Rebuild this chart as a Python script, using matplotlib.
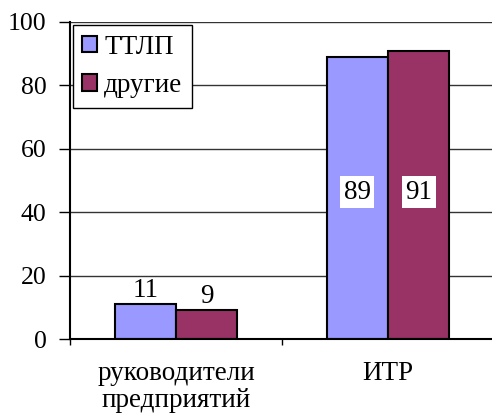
import matplotlib
matplotlib.use("Agg")
import matplotlib.pyplot as plt
import numpy as np

categories = ["руководители\nпредприятий", "ИТР"]
series_names = ["ТТЛП", "другие"]
ttlp = [11, 89]
other = [9, 91]
colors = ["#9999FF", "#993366"]
yticks = [0, 20, 40, 60, 80, 100]

FONT = ['Liberation Serif', 'DejaVu Serif']
plt.rcParams['font.family'] = FONT
plt.rcParams['font.serif'] = FONT
FS = 19.5

fig = plt.figure(figsize=(4.92, 4.15), dpi=100)
ax = fig.add_axes([70/492, (415-339)/415, 424/492, 317/415])

x = np.arange(len(categories))
w = 0.29
b1 = ax.bar(x - w/2, ttlp, w, color=colors[0], edgecolor='black', linewidth=1.5, label=series_names[0], zorder=3)
b2 = ax.bar(x + w/2, other, w, color=colors[1], edgecolor='black', linewidth=1.5, label=series_names[1], zorder=3)

for i in range(len(categories)):
    group_mid = (ttlp[i] + other[i]) / 4
    for rect, v in ((b1[i], ttlp[i]), (b2[i], other[i])):
        cx = rect.get_x() + rect.get_width()/2
        if v < 50:
            ax.text(cx, v + 0.5, str(v), ha='center', va='bottom', fontsize=FS, zorder=4, family=FONT)
        else:
            ax.text(cx, group_mid + 1.3, str(v), ha='center', va='center', fontsize=FS, zorder=4, family=FONT,
                    bbox=dict(facecolor='white', edgecolor='none', pad=2.5))

ax.set_xlim(-0.5, 1.5)
ax.set_ylim(0, 100)
ax.set_yticks(yticks)
ax.set_yticklabels([str(t) for t in yticks], fontsize=18.5, family=FONT)
ax.set_xticks(x)
ax.set_xticklabels(categories, fontsize=FS, family=FONT, linespacing=1.1)
ax.set_xticks([-0.5, 0.5, 1.5], minor=True)
ax.tick_params(axis='x', which='major', length=0, pad=16)
ax.tick_params(axis='x', which='minor', length=4, width=1)
ax.tick_params(axis='y', length=8, width=1, pad=9)
ax.yaxis.grid(True, color='#333333', linewidth=1, zorder=0)
ax.set_axisbelow(True)
for s in ['top', 'right']:
    ax.spines[s].set_visible(False)
ax.spines['left'].set_linewidth(1.5)
ax.spines['bottom'].set_linewidth(1.5)
ax.spines['left'].set_zorder(5)
ax.spines['bottom'].set_zorder(5)

leg = ax.legend(loc='upper left', bbox_to_anchor=(0.007, 0.99), borderaxespad=0,
                prop={'family': FONT, 'size': FS}, fancybox=False, framealpha=1, edgecolor='black',
                handlelength=0.55, handleheight=0.55, handletextpad=0.25,
                labelspacing=0.5, borderpad=0.35)
leg.get_frame().set_linewidth(1)

fig.savefig("out.png", dpi=100)
